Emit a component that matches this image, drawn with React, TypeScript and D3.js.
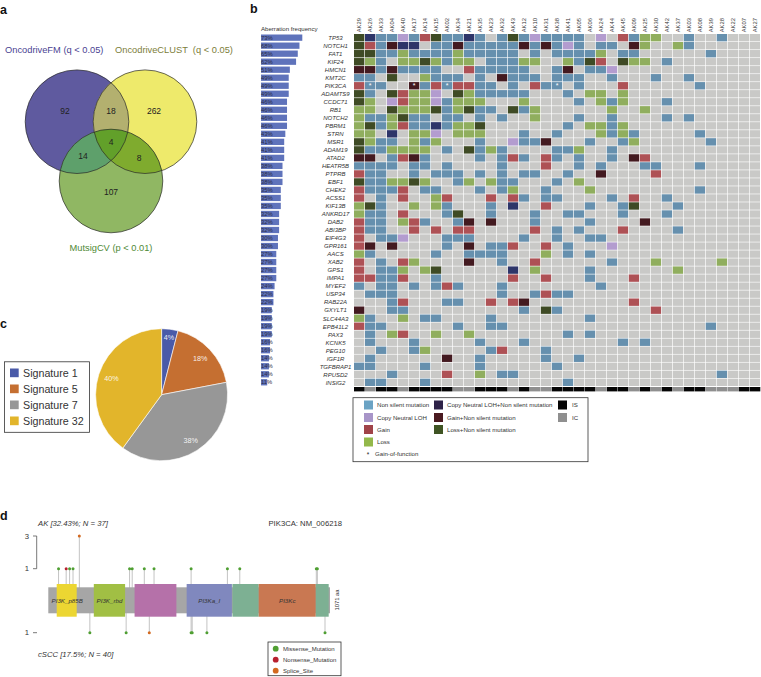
import React from "react";
import * as d3 from "d3";

const FONT = "'Liberation Sans', Arial, sans-serif";

// Panel a
const vennNames = ["FM", "CLUST", "Mutsig"];
const vennCounts = [92, 262, 107, 18, 14, 8, 4];

// Panel b
const samples = ["AK29","AK26","AK33","AK04","AK40","AK17","AK14","AK15","AK02","AK34","AK21","AK35","AK23","AK32","AK43","AK12","AK10","AK31","AK38","AK41","AK05","AK06","AK24","AK44","AK45","AK09","AK25","AK30","AK42","AK37","AK03","AK08","AK39","AK28","AK22","AK07","AK27"];
const genes = ["TP53","NOTCH1","FAT1","KIF24","HMCN1","KMT2C","PIK3CA","ADAMTS9","CCDC71","RB1","NOTCH2","PBRM1","STRN","MSR1","ADAM19","ATAD2","HEATR5B","PTPRB","EBF1","CHEK2","ACSS1","KIF13B","ANKRD17","DAB2","ABI3BP","EIF4G3","GPR161","AACS","XAB2","GPS1","IMPA1","MYEF2","USP34","RAB22A","GXYLT1","SLC44A3","EPB41L2","PAX3","KCNK5","PEG10","IGF1R","TGFBRAP1","RPUSD2","INSIG2"];
const frequencies = [73,68,65,62,51,49,49,49,46,46,46,46,43,41,41,41,38,38,38,35,35,35,32,32,32,30,30,27,27,27,27,24,22,22,19,19,19,19,16,16,14,14,14,11];
const matrix = [
"ONnnl ngOnn Nn.nO nlnnn n.l.g noo.. n..n. ..",
"OgnGN N.nnG nnnnn GnGnl n.nn. Go..o n.... ..",
"OOnno nnnno nnnnn .n.nn nno.n n.... ..n.. ..",
"Oon.o oOono o.nnn oo..o nOg.O oo.n. ..... ..",
"GGnGn nnn.. gnnnn n..nG .nnl. ..... ..... ..",
"nn.O. .onnn .n.Gn nn.nn n..n. ..n.. n.... ..",
"gnn.. Gngng gnn.n .gnn. n...g ..... .n... ..",
"On.Og ool.O onnnn n...n .oo.o ..... ..... ..",
"Oo.lg oolno oo... o.... n.ono ...n. ..... ..",
"oo.Oo ooOno Onn.O no... ...o. .o... ..... ..",
"onnoO nn.nn .n.n. .o... n..n. ...n. n.... ..",
"oOnog nnNno oO... ....n .oono ..... ..... ..",
"oo.N. ool.o oo... n..n. ..ono n.... .n... ..",
"Oonn. ono.. .n..l nnG.. .n..n o.... ..n.. ..",
"Onnoo oo.n. Onon. ...nn o..n. ..... ..... ..",
"GG.ng Gn... .n.ng n.gn. n..n. Gg... ..... ..",
"nnnn. nn.n. ...n. ..g.. n.n.. .nn.. .n... ..",
"gnn.. n.nnn .n.n. nn..n ..G.. ..g.. ..... ..",
"Onnoo Oo..n o.onn ...n. o.... ..... ..... ..",
"gnnng .nn.. .n.no ..n.. .o... ..... .n... ..",
"g.n.g ..og. ..g.g n.nn. ...n. g..n. ..... ..",
"oOn.. o.on. ..n.N ..g.. .n..n O...n ..... ..",
"onn.g ...nO ..n.. .n..n n...n ...n. ..... ..",
"gnn.o gn..n G.G.. .n... .n... .G... ..... ..",
"gnn.. g.g.g g.... .g.n. n...g ....n ..... ..",
"g.nnl ...nn n.... n..n. .nn.. ..... ..... ..",
"gG.G. ...n. G.nng ..g.n ...l. ..... ..... ..",
"on... ..n.. nnnn. ..o.n .n... ..... ..... ..",
"g.n.g o.... G..n. .g... ...n. ..o.. ...o. ..",
"g.nno .oO.. ....N .o... .n... ....o ..... ..",
"ggnng ..n.. ....g ..g.. .n... g.... ..... ..",
"n.nn. n.ngn ...n. ..... ..n.. ..... ..... ..",
".nnn. ..... ...n. .ngnn ..... ..... ..... ..",
"...ng ...nn ..g.g G.... ..... g.... ..... ..",
"G..nn ..... ..... n.On. ..... ..g.. ..... ..",
"on..o .nn.. ..n.. ..... .n... ..... ..... ..",
"gnn.. ....n ..nn. ..... ..... ..... ..n.. ..",
".n.og ..o.. o.... ....n .n... ..... ..... ..",
".n... n.... .n... n.... ....n .n... ..... ..",
"..n.. no... ..ng. ..n.. ..... ..... ..... ..",
".n... ...G. .n... ..n.. n.... ..... ..... ..",
"nn... .n... .n... ...n. ..... ..... ..... ..",
"...n. ...g. .o.nn ..... ..... ..... ...n. ..",
".nn.. .n... ..... ....n ..... ..... ..... ..",
];
const isRow = "SCSSC SSSSC CSSSC SCCSS SSCSS CSCSC SSCCC SS";
const starRow = "PIK3CA";
const starSamples = ["AK26","AK17","AK02","AK38"];
const cellColors: Record<string, string> = { ".": "#c9c9c7", n: "#6690ae", l: "#b39ccf", g: "#ae5155", o: "#90ae5e", N: "#2e3569", G: "#431a20", O: "#3f4b25" };
const typeColors: Record<string, string> = { S: "#050505", C: "#8f8f8f" };
const legendB = [
  { label: "Non silent mutation", color: "#6ba3c4", col: 0, row: 0 },
  { label: "Copy Neutral LOH", color: "#a895c8", col: 0, row: 1 },
  { label: "Gain", color: "#a04348", col: 0, row: 2 },
  { label: "Loss", color: "#93b84a", col: 0, row: 3 },
  { label: "Copy Neutral LOH+Non silent mutation", color: "#2e2248", col: 1, row: 0 },
  { label: "Gain+Non silent mutation", color: "#4a1a20", col: 1, row: 1 },
  { label: "Loss+Non silent mutation", color: "#3f5423", col: 1, row: 2 },
  { label: "IS", color: "#050505", col: 2, row: 0 },
  { label: "IC", color: "#8f8f8f", col: 2, row: 1 },
];

// Panel c
const signatures = ["Signature 1","Signature 5","Signature 7","Signature 32"];
const signatureShares = [4,18,38,40];
const signatureColors = ["#4a5aa8","#c56f31","#979797","#e2b52b"];

// Panel d
const proteinLength = 1071;
const domains = [
  { name: "PI3K_p85B", start: 32, end: 108, color: "#ecd632" },
  { name: "PI3K_rbd", start: 173, end: 292, color: "#a1bf44" },
  { name: "", start: 328, end: 487, color: "#b571a9" },
  { name: "PI3Ka_I", start: 526, end: 698, color: "#8088be" },
  { name: "", start: 700, end: 800, color: "#7db093" },
  { name: "PI3Kc", start: 800, end: 1017, color: "#c97852" },
  { name: "", start: 1017, end: 1066, color: "#7db093" },
];
const mutColors: Record<string, string> = { Missense_Mutation: "#4f9f32", Nonsense_Mutation: "#b8202e", Splice_Site: "#d3691f" };
const akMutations: [number, number, string][] = [[39,1,"Missense_Mutation"],[68,1,"Nonsense_Mutation"],[81,1,"Missense_Mutation"],[94,1,"Missense_Mutation"],[118,3,"Splice_Site"],[309,1,"Missense_Mutation"],[319,1,"Missense_Mutation"],[365,1,"Missense_Mutation"],[402,1,"Missense_Mutation"],[543,1,"Missense_Mutation"],[681,1,"Missense_Mutation"],[728,1,"Missense_Mutation"],[1019,1,"Missense_Mutation"],[1023,1,"Missense_Mutation"]];
const csccMutations: [number, string][] = [[158,"Missense_Mutation"],[296,"Missense_Mutation"],[384,"Splice_Site"],[543,"Missense_Mutation"],[547,"Missense_Mutation"],[603,"Missense_Mutation"],[1052,"Missense_Mutation"]];

const T = (p: any) => <text fontFamily={FONT} {...p} />;

function Venn() {
  const c = [{ x: 77, y: 121.7 }, { x: 145, y: 121.7 }, { x: 111, y: 181 }];
  const r = 51.8;
  const pos = [[65,111],[154,111],[111,192],[111,111],[83,156],[139,158],[111,142]];
  return (
    <g>
      <defs>
        {c.map((p, i) => <clipPath key={i} id={`vc${i}`}><circle cx={p.x} cy={p.y} r={r} /></clipPath>)}
      </defs>
      <circle cx={c[0].x} cy={c[0].y} r={r} fill="#5f5a9f" />
      <circle cx={c[1].x} cy={c[1].y} r={r} fill="#eeea6b" />
      <circle cx={c[2].x} cy={c[2].y} r={r} fill="#90b763" />
      <g clipPath="url(#vc0)"><circle cx={c[1].x} cy={c[1].y} r={r} fill="#b3b06f" /></g>
      <g clipPath="url(#vc0)"><circle cx={c[2].x} cy={c[2].y} r={r} fill="#5ea06b" /></g>
      <g clipPath="url(#vc1)"><circle cx={c[2].x} cy={c[2].y} r={r} fill="#7fab2e" /></g>
      <g clipPath="url(#vc0)"><g clipPath="url(#vc1)"><circle cx={c[2].x} cy={c[2].y} r={r} fill="#62a02a" /></g></g>
      {c.map((p, i) => <circle key={i} cx={p.x} cy={p.y} r={r} fill="none" stroke="#2a2a2a" strokeWidth={0.7} data-name={vennNames[i]} />)}
      {vennCounts.map((v, i) => <T key={i} x={pos[i][0]} y={pos[i][1] + 3} fontSize={8.5} textAnchor="middle" fill="#222">{v}</T>)}
      <T x={5} y={53} fontSize={9.3} fill="#4a3f92">OncodriveFM (q &lt; 0.05)</T>
      <T x={115} y={53} fontSize={9.3} fill="#7c7d3a" xmlSpace="preserve">OncodriveCLUST  (q &lt; 0.05)</T>
      <T x={69.5} y={251} fontSize={9.3} fill="#4f8a36">MutsigCV (p &lt; 0.01)</T>
    </g>
  );
}

function Oncoprint() {
  const x = d3.scaleBand<number>().domain(d3.range(samples.length)).range([354, 760]).paddingInner(0.06);
  const y = d3.scaleBand<number>().domain(d3.range(genes.length)).range([34, 386]).paddingInner(0.08);
  const bar = d3.scaleLinear().domain([0, 73]).range([261, 302.3]);
  const rows = matrix.map((m) => m.replace(/ /g, ""));
  const types = isRow.replace(/ /g, "");
  const colX = [364, 434, 558];
  const textX = [377, 447, 572];
  const rowY = [405, 417.5, 429.5, 442];
  return (
    <g>
      <T x={261} y={30.5} fontSize={6.1} fill="#333">Aberration frequency</T>
      {samples.map((s, i) => (
        <T key={s} transform={`translate(${x(i)! + x.bandwidth() / 2 + 2},32.3) rotate(-90)`} fontSize={5.8} fill="#333">{s}</T>
      ))}
      {genes.map((g, r) => (
        <g key={g}>
          <rect x={bar(0)} y={y(r)! + 0.5} width={bar(frequencies[r]) - bar(0)} height={6.3} fill="#5f73bb" />
          <T x={261} y={y(r)! + 5.8} fontSize={5.8} fill="#2a2a44">{frequencies[r]}%</T>
          <T x={335.5} y={y(r)! + 6} fontSize={6} fontStyle="italic" textAnchor="middle" fill="#333">{g}</T>
          {samples.map((s, c) => (
            <rect key={s} x={x(c)} y={y(r)} width={x.bandwidth()} height={y.bandwidth()} fill={cellColors[rows[r][c]]} />
          ))}
        </g>
      ))}
      {starSamples.map((s) => {
        const c = samples.indexOf(s);
        const r = genes.indexOf(starRow);
        return <T key={s} x={x(c)! + x.bandwidth() / 2} y={y(r)! + 6.4} fontSize={7} textAnchor="middle" fill="#fff">*</T>;
      })}
      {samples.map((s, c) => (
        <rect key={s} x={x(c)} y={387} width={x.bandwidth() + 0.3} height={4.4} fill={typeColors[types[c]]} />
      ))}
      <rect x={353} y={397.7} width={235} height={64} fill="#fff" stroke="#333" strokeWidth={0.8} />
      {legendB.map((l) => (
        <g key={l.label}>
          <rect x={colX[l.col]} y={rowY[l.row] - 4.5} width={9} height={9} fill={l.color} />
          <T x={textX[l.col]} y={rowY[l.row] + 2} fontSize={6.1} fill="#333">{l.label}</T>
        </g>
      ))}
      <T x={368} y={456.5} fontSize={6.5} textAnchor="middle" fill="#222">*</T>
      <T x={375} y={456.3} fontSize={6.1} fill="#333">Gain-of-function</T>
    </g>
  );
}

function Pie() {
  const cx = 161.6, cy = 394.7, r = 66;
  const arcs = d3.pie<number>().sort(null)(signatureShares);
  const path = d3.arc<d3.PieArcDatum<number>>().innerRadius(0).outerRadius(r);
  const labelR = [0.88, 0.8, 0.82, 0.8];
  return (
    <g>
      <g transform={`translate(${cx},${cy})`}>
        {arcs.map((a, i) => <path key={i} d={path(a)!} fill={signatureColors[i]} stroke="#fff" strokeWidth={0.6} />)}
        {arcs.map((a, i) => {
          const m = (a.startAngle + a.endAngle) / 2;
          return <T key={i} x={Math.sin(m) * r * labelR[i]} y={-Math.cos(m) * r * labelR[i] + 2.5} fontSize={7.2} textAnchor="middle" fill="#fff" fillOpacity={0.9}>{signatureShares[i]}%</T>;
        })}
      </g>
      <rect x={4.5} y={361.8} width={85} height={70.5} fill="#fff" stroke="#333" strokeWidth={0.8} />
      {signatures.map((s, i) => (
        <g key={s}>
          <rect x={10} y={368.5 + i * 16} width={8.7} height={8.7} fill={signatureColors[i]} />
          <T x={23} y={376.6 + i * 16} fontSize={10.7} fill="#333">{s}</T>
        </g>
      ))}
    </g>
  );
}

function Lollipop() {
  const x = d3.scaleLinear().domain([0, proteinLength]).range([48.3, 330]);
  const up = d3.scaleLinear().domain([1, 3]).range([568.7, 536]);
  const downY = 632.7;
  return (
    <g>
      <T x={38} y={526} fontSize={7.7} fontStyle="italic" fill="#333">AK [32.43%; N = 37]</T>
      <T x={342} y={526} fontSize={7.7} textAnchor="end" fill="#333">PIK3CA: NM_006218</T>
      <T x={38} y={656.5} fontSize={7.7} fontStyle="italic" fill="#333">cSCC [17.5%; N = 40]</T>
      <path d={`M33,${up(3)}H36.7V${up(1)}H33`} fill="none" stroke="#555" strokeWidth={0.8} />
      <path d={`M33,${downY}H37`} fill="none" stroke="#555" strokeWidth={0.8} />
      <T x={27} y={up(3) + 2.7} fontSize={7.7} textAnchor="middle" fill="#333">3</T>
      <T x={27} y={up(1) + 2.7} fontSize={7.7} textAnchor="middle" fill="#333">1</T>
      <T x={27} y={downY + 2.7} fontSize={7.7} textAnchor="middle" fill="#333">1</T>
      {akMutations.map(([aa, n], i) => <line key={i} x1={x(aa)} x2={x(aa)} y1={up(n)} y2={588} stroke="#b4b4b4" strokeWidth={0.8} />)}
      {csccMutations.map(([aa], i) => <line key={i} x1={x(aa)} x2={x(aa)} y1={612} y2={downY} stroke="#b4b4b4" strokeWidth={0.8} />)}
      <rect x={x(0)} y={587.3} width={x(proteinLength) - x(0)} height={26} fill="#a6a6a6" />
      {domains.map((d, i) => <rect key={i} x={x(d.start)} y={584} width={x(d.end) - x(d.start)} height={32.7} fill={d.color} />)}
      {domains.filter((d) => d.name).map((d) => (
        <T key={d.name} x={x((d.start + d.end) / 2) + (d.name === "PI3K_p85B" ? 0.5 : 0)} y={602.5} fontSize={6.2} fontStyle="italic" textAnchor="middle" fill="#333">{d.name}</T>
      ))}
      {akMutations.map(([aa, n, t], i) => <circle key={i} cx={x(aa)} cy={up(n)} r={1.5} fill={mutColors[t]} />)}
      {csccMutations.map(([aa, t], i) => <circle key={i} cx={x(aa)} cy={downY} r={1.5} fill={mutColors[t]} />)}
      <T transform="translate(339,600) rotate(-90)" fontSize={5.8} textAnchor="middle" fill="#333">1071 aa</T>
      <rect x={268} y={642} width={73} height={33.7} fill="#fff" stroke="#333" strokeWidth={0.8} />
      {Object.keys(mutColors).map((k, i) => (
        <g key={k}>
          <circle cx={275.7} cy={648.7 + i * 11} r={2.9} fill={mutColors[k]} />
          <T x={283} y={650.9 + i * 11} fontSize={6} fill="#333">{k}</T>
        </g>
      ))}
    </g>
  );
}

export default function App() {
  return (
    <svg width={761} height={677} style={{ position: "absolute", left: 0, top: 0, background: "#fff" }}>
      <T x={0} y={14} fontSize={12.5} fontWeight="bold" fill="#111">a</T>
      <T x={250} y={12.5} fontSize={12.5} fontWeight="bold" fill="#111">b</T>
      <T x={0} y={328} fontSize={12.5} fontWeight="bold" fill="#111">c</T>
      <T x={0} y={520} fontSize={12.5} fontWeight="bold" fill="#111">d</T>
      <Venn />
      <Oncoprint />
      <Pie />
      <Lollipop />
    </svg>
  );
}
